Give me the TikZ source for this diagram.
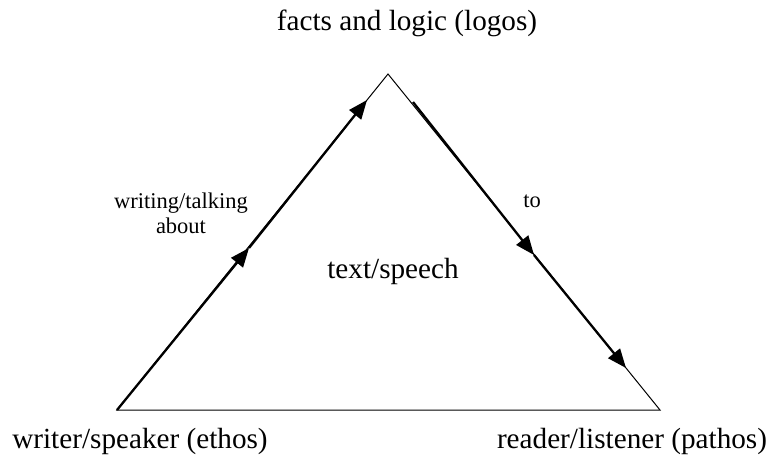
\documentclass[tikz,border=0pt]{standalone}
\usepackage{fontspec}
\setmainfont{Liberation Serif}
\usetikzlibrary{arrows.meta, positioning, calc}

\begin{document}
\begin{tikzpicture}[x=1pt, y=-1pt,
	side/.style={line width=1pt},
	flow/.style={line width=2.3pt, -{Triangle[length=19pt,width=15pt]}},
	corner/.style={font=\fontsize{29.2}{32}\selectfont, inner sep=0pt},
	remark/.style={font=\fontsize{22.5}{25}\selectfont, align=center}]
					\useasboundingbox (0,0) rectangle (768,458);
					% corners of the triangle
					\coordinate (ethos) at (117,410);
					\coordinate (logos) at (388,74);
					\coordinate (pathos) at (660,410);
					
					\node[corner] (logostext) at (407,23) {facts and logic (logos)};
					\node[corner] (ethostext) at (140,441) {writer/speaker (ethos)};
					\node[corner] (pathostext) at (632,441) {reader/listener (pathos)};
					\node[corner] (speech) at (393,271) {text/speech};
					\node[remark] (about) at (181,213) {writing/talking\\about};
					\node[remark] (to) at (532,201) {to};
					
					% ends of the arrows
					\coordinate (l1) at (249,248);
					\coordinate (l2) at (367,100);
					\coordinate (r0) at (413,102);
					\coordinate (r1) at (534,255);
					\coordinate (r2) at (626,368);
					
					\draw[side] (ethos) -- (logos) -- (pathos) -- cycle;
					\draw
					(ethos) edge[flow] (l1)
					(l1) edge[flow] (l2)
					(r0) edge[flow] (r1)
					(r1) edge[flow] (r2);
				\end{tikzpicture}
\end{document}
